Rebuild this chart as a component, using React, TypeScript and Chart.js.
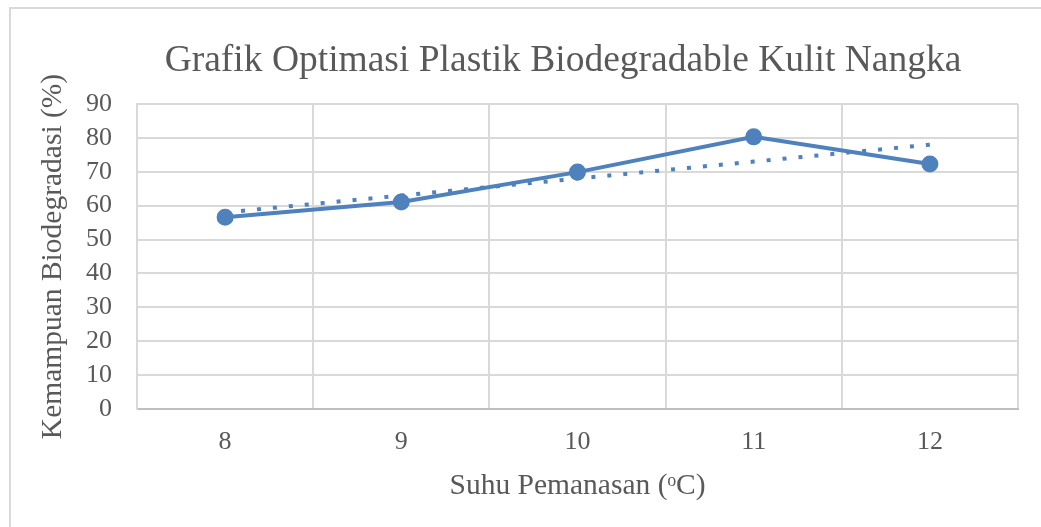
import React, { useEffect, useRef } from "react";
import { Chart, registerables } from "chart.js";

Chart.register(...registerables);

const chartTitle = "Grafik Optimasi Plastik Biodegradable Kulit Nangka";
const xAxisTitle = "Suhu Pemanasan (ᵒC)";
const yAxisTitle = "Kemampuan Biodegradasi (%)";
const categories = ["8", "9", "10", "11", "12"];
const biodegradasi = [56.6, 61.1, 69.9, 80.3, 72.3];
const trendline = [58, 63, 68, 73, 78];
const yMin = 0;
const yMax = 90;
const yStep = 10;

const FONT = "'Liberation Serif', 'Times New Roman', Times, serif";
const TEXT = "#595959";
const BLUE = "#4F81BD";

const frame = {
  id: "frame",
  beforeDraw(chart: any) {
    const ctx = chart.ctx;
    ctx.save();
    ctx.fillStyle = "#ffffff";
    ctx.fillRect(0, 0, chart.width, chart.height);
    ctx.strokeStyle = "#d9d9d9";
    ctx.lineWidth = 2;
    ctx.beginPath();
    ctx.moveTo(10, chart.height);
    ctx.lineTo(10, 8);
    ctx.lineTo(chart.width, 8);
    ctx.stroke();
    ctx.restore();
  },
};

const titleShift = {
  id: "titleShift",
  afterLayout(chart: any) {
    const t = chart.titleBlock;
    if (!t) return;
    const dx = 563 - (t.left + t.right) / 2;
    t.left += dx;
    t.right += dx;
  },
};

export default function App() {
  const ref = useRef<HTMLCanvasElement | null>(null);
  useEffect(() => {
    document.body.style.margin = "0";
    const canvas = ref.current;
    if (!canvas) return;
    const chart = new Chart(canvas, {
      type: "line",
      data: {
        labels: categories,
        datasets: [
          {
            label: "Kemampuan Biodegradasi",
            data: biodegradasi,
            borderColor: BLUE,
            backgroundColor: BLUE,
            borderWidth: 4,
            pointRadius: 7.5,
            pointBorderWidth: 2,
            pointBorderColor: BLUE,
            pointBackgroundColor: BLUE,
            tension: 0,
            order: 1,
          },
          {
            label: "Trendline",
            data: trendline,
            borderColor: BLUE,
            borderWidth: 4,
            borderDash: [4, 12],
            borderCapStyle: "butt",
            pointRadius: 0,
            tension: 0,
            order: 2,
          },
        ],
      },
      options: {
        responsive: false,
        animation: false,
        events: [],
        layout: { padding: { top: 0, left: 30, right: 23, bottom: 26 } },
        plugins: {
          legend: { display: false },
          tooltip: { enabled: false },
          title: {
            display: true,
            text: chartTitle,
            color: TEXT,
            font: { family: FONT, size: 37.5, weight: "normal", lineHeight: 1.2 },
            padding: { top: 39, bottom: 20 },
          },
        },
        scales: {
          x: {
            type: "category",
            offset: true,
            afterFit(scale: any) {
              scale.height = 92;
            },
            grid: {
              offset: true,
              color: "#d9d9d9",
              lineWidth: 2,
              drawTicks: false,
            },
            border: { display: true, color: "#bfbfbf", width: 2 },
            ticks: {
              color: TEXT,
              font: { family: FONT, size: 26, lineHeight: 1.2 },
              padding: 18,
            },
            title: {
              display: true,
              text: xAxisTitle,
              color: TEXT,
              font: { family: FONT, size: 29.5, lineHeight: 1 },
              padding: { top: 0, bottom: 0 },
            },
          },
          y: {
            min: yMin,
            max: yMax,
            afterFit(scale: any) {
              scale.width = 107;
            },
            grid: { color: "#d9d9d9", lineWidth: 2, drawTicks: false },
            border: { display: true, color: "#d9d9d9", width: 2 },
            ticks: {
              stepSize: yStep,
              autoSkip: false,
              color: TEXT,
              font: { family: FONT, size: 26, lineHeight: 1.2 },
              padding: 25,
            },
            title: {
              display: true,
              text: yAxisTitle,
              color: TEXT,
              font: { family: FONT, size: 29.5, lineHeight: 1 },
              padding: { top: 8.5, bottom: 0 },
            },
          },
        },
      },
      plugins: [frame, titleShift],
    });
    return () => chart.destroy();
  }, []);
  return <canvas ref={ref} width={1041} height={527} style={{ display: "block" }} />;
}
